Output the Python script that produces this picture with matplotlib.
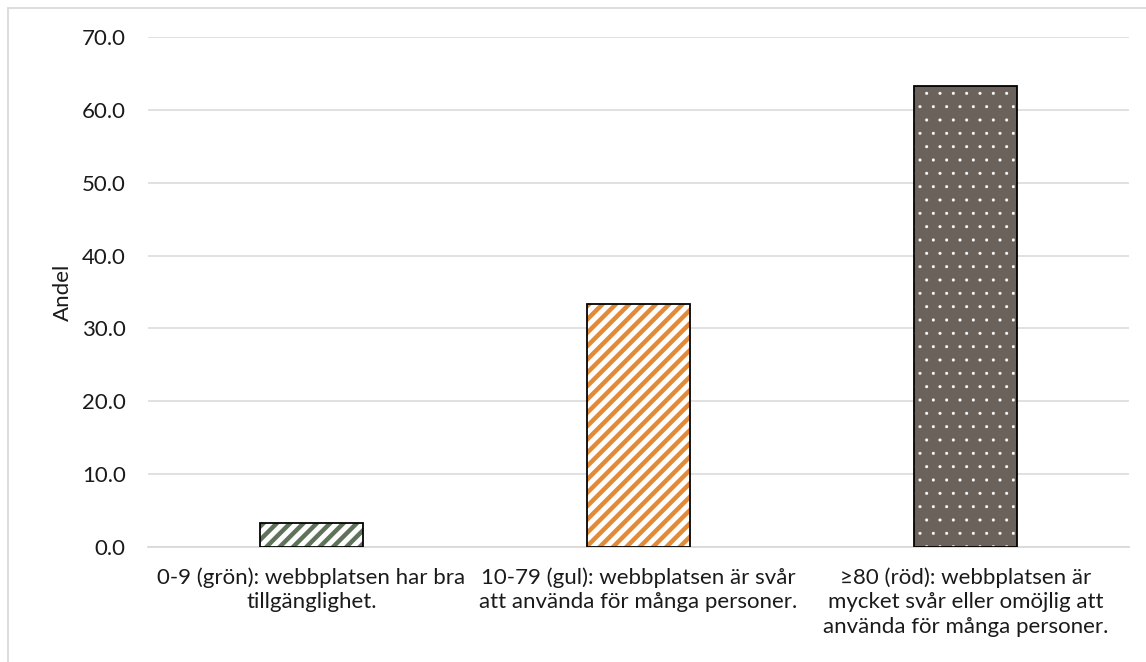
import matplotlib
matplotlib.use("Agg")
import matplotlib.pyplot as plt
from matplotlib.patches import Rectangle

# Data
categories = [
    "0-9 (grön): webbplatsen har bra\ntillgänglighet.",
    "10-79 (gul): webbplatsen är svår\natt använda för många personer.",
    "≥80 (röd): webbplatsen är\nmycket svår eller omöjlig att\nanvända för många personer.",
]
values = [3.3, 33.3, 63.3]
y_ticks = [0, 10, 20, 30, 40, 50, 60, 70]

hatch_colors = ["#5F735A", "#E08A3A", "white"]
face_colors = ["white", "white", "#6B625B"]
hatches = ["//", "//", "."]
hatch_widths = [4.0, 4.0, 0.3]

DPI = 80
FS = 20
plt.rcParams["font.family"] = ["Lato", "DejaVu Sans"]

fig = plt.figure(figsize=(1146 / DPI, 662 / DPI), dpi=DPI)
ax = fig.add_axes([148 / 1146, 1 - 547 / 662, (1129 - 148) / 1146, (547 - 37) / 662])

x = list(range(len(categories)))
for i, v in enumerate(values):
    # hatch layer, then black outline on top
    with plt.rc_context({"hatch.linewidth": hatch_widths[i]}):
        b = ax.bar(i, v, width=0.315, color=face_colors[i], edgecolor=hatch_colors[i],
                   hatch=hatches[i], linewidth=0, zorder=3)
        for p in b:
            if hasattr(p, "set_hatch_linewidth"):
                p.set_hatch_linewidth(hatch_widths[i])
    ax.bar(i, v, width=0.315, fill=False, edgecolor="black", linewidth=1.6, zorder=4)

ax.set_xlim(-0.5, 2.5)
ax.set_ylim(0, 70)
ax.set_yticks(y_ticks)
ax.set_yticklabels([f"{t:.1f}" for t in y_ticks], fontsize=FS, color="#1a1a1a")
ax.set_xticks(x)
ax.set_xticklabels(categories, fontsize=FS, color="#1a1a1a", linespacing=1.3)
ax.tick_params(axis="both", length=0)
ax.tick_params(axis="y", pad=20)
ax.tick_params(axis="x", pad=18)
ax.set_ylabel("Andel", fontsize=FS, color="#1a1a1a", labelpad=8)

ax.grid(axis="y", color="#D9D9D9", linewidth=1.4, zorder=0)
for s in ["top", "right", "left"]:
    ax.spines[s].set_visible(False)
ax.spines["bottom"].set_color("#D9D9D9")
ax.spines["bottom"].set_linewidth(1.6)

# outer chart border
fig.patches.append(Rectangle((8 / 1146, -0.1), 1.2, 1 - 8 / 662 + 0.1,
                             transform=fig.transFigure, fill=False,
                             edgecolor="#D9D9D9", linewidth=1.6))

fig.savefig("out.png", dpi=DPI)
